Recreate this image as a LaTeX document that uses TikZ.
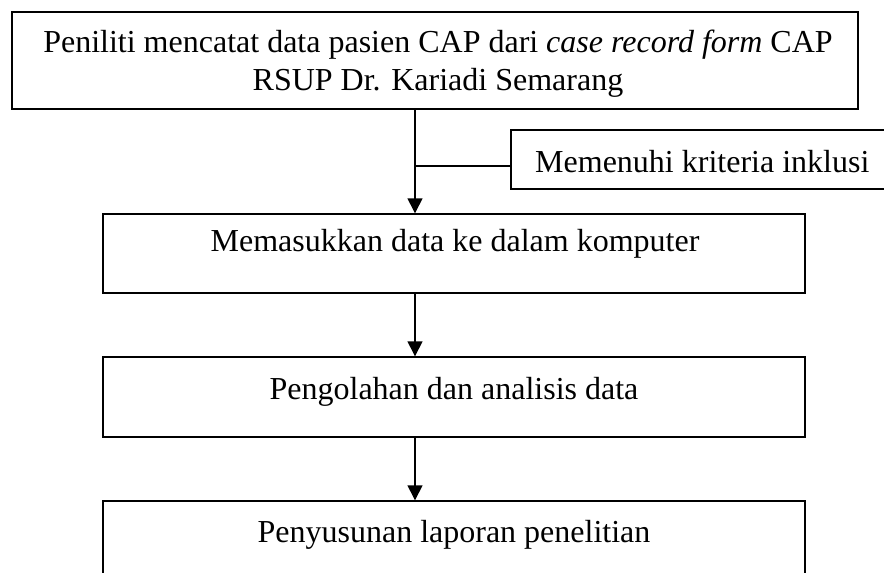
\documentclass[tikz,border=0pt]{standalone}
\usepackage{fontspec}
\setmainfont{Liberation Serif}
\usetikzlibrary{arrows.meta}
\begin{document}
\begin{tikzpicture}[x=1pt,y=-1pt,
  box/.style={draw=black,line width=1.4pt,rectangle,inner sep=0pt},
  txt/.style={font=\fontsize{32}{37}\selectfont,inner sep=0pt,anchor=base},
  arr/.style={line width=1.4pt,-{Triangle[width=15pt,length=15pt]}},
  ln/.style={line width=1.4pt}]
\useasboundingbox (0,0) rectangle (884,573);
\node[box,minimum width=846pt,minimum height=97pt] (b1) at (435,60.5) {};
\node[txt] (t1a) at (438,52) {Peniliti mencatat data pasien CAP dari \textit{case record form} CAP};
\node[txt] (t1b) at (438,90) {RSUP Dr. Kariadi Semarang};
\node[box,minimum width=400pt,minimum height=59pt] (side) at (711,159.5) {};
\node[txt,anchor=base west] (ts) at (535,172) {Memenuhi kriteria inklusi};
\node[box,minimum width=702pt,minimum height=79pt] (b2) at (454,253.5) {};
\node[txt] (t2) at (455,251) {Memasukkan data ke dalam komputer};
\node[box,minimum width=702pt,minimum height=80pt] (b3) at (454,397) {};
\node[txt] (t3) at (454,399) {Pengolahan dan analisis data};
\node[box,minimum width=702pt,minimum height=120pt] (b4) at (454,561) {};
\node[txt] (t4) at (454,542) {Penyusunan laporan penelitian};
\coordinate (v) at (415,0);
\coordinate (j) at (415,166);
\draw[arr] (b1.south -| v) -- (b2.north -| v);
\draw[ln] (j) -- (j -| side.west);
\draw[arr] (b2.south -| v) -- (b3.north -| v);
\draw[arr] (b3.south -| v) -- (b4.north -| v);
\end{tikzpicture}
\end{document}
